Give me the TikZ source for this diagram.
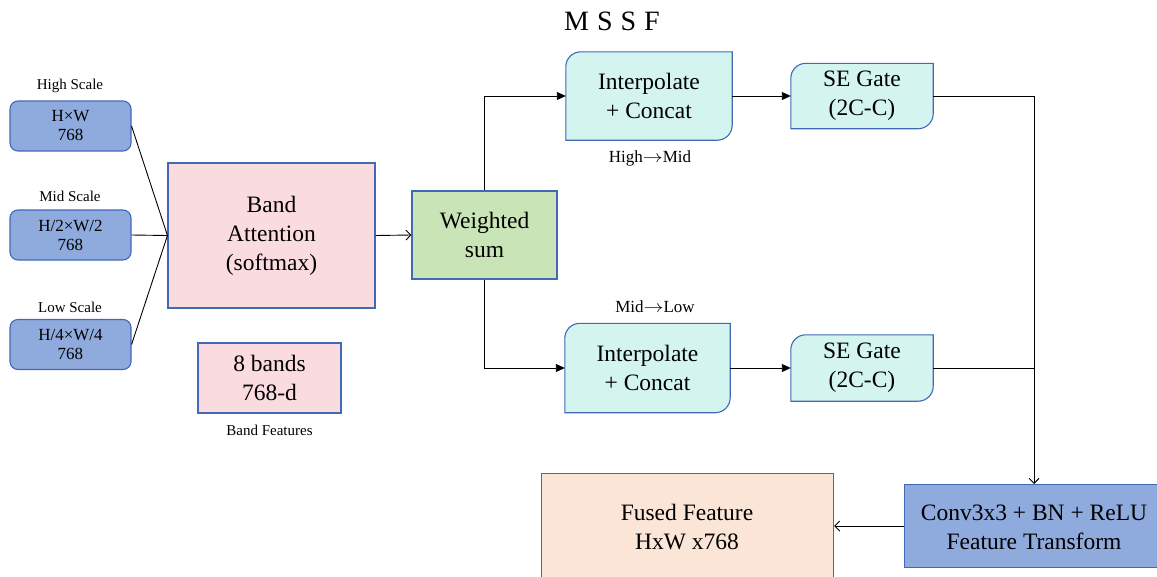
\documentclass[tikz,border=0pt]{standalone}
\usepackage{fontspec}
\setmainfont{Liberation Serif}
\usetikzlibrary{arrows.meta,backgrounds}
\definecolor{edgeblue}{HTML}{4169B8}
\definecolor{scaleblue}{HTML}{8FAADC}
\definecolor{pinkf}{HTML}{FADBE0}
\definecolor{greenf}{HTML}{C9E4B6}
\definecolor{cyanf}{HTML}{D4F4F0}
\definecolor{peachf}{HTML}{FBE5D6}
\tikzset{
  box/.style={draw=edgeblue,line width=1.1pt,inner sep=0pt,align=center,
    font=\fontsize{23.5}{29}\selectfont},
  scalebox/.style={box,fill=scaleblue,rounded corners=8pt,minimum width=121pt,minimum height=50pt,
    font=\fontsize{17}{19}\selectfont},
  pinkbox/.style={box,fill=pinkf},
  cyanbox/.style={inner sep=0pt,align=center,font=\fontsize{23.5}{29}\selectfont},
  lbl/.style={inner sep=0pt,font=\fontsize{15}{18}\selectfont},
  tlbl/.style={inner sep=0pt,font=\fontsize{17}{20}\selectfont},
  conn/.style={line width=0.9pt},
  farrow/.style={conn,-{Triangle[width=8pt,length=9pt]}},
  oarrow/.style={conn,-{Straight Barb[width=10pt,length=5pt,line width=0.9pt]}},
  shapefill/.style={draw=edgeblue,line width=1.1pt,fill=cyanf}
}
\newcommand{\oddshape}[1]{%
  \path[shapefill] ([yshift=-15pt]#1.north west) arc[start angle=180,end angle=90,radius=15pt]
    -- (#1.north east) -- ([yshift=15pt]#1.south east) arc[start angle=0,end angle=-90,radius=15pt]
    -- (#1.south west) -- cycle;}
\newcommand{\rarr}{\scalebox{1.15}[1]{$\rightarrow$}}
\begin{document}
\begin{tikzpicture}[x=1pt,y=-1pt]
\useasboundingbox (0,0) rectangle (1157,576);
% title
\node[inner sep=0pt,font=\fontsize{28}{32}\selectfont] (title) at (612,21) {M\hspace{8pt}S\hspace{8pt}S\hspace{8pt}F};
% scale inputs
\node[lbl] (lh) at (70,86) {High Scale};
\node[scalebox] (s1) at (70.5,126) {H×W\\768};
\node[lbl] (lm) at (70,196) {Mid Scale};
\node[scalebox] (s2) at (70.5,235) {H/2×W/2\\768};
\node[lbl] (ll) at (70,307) {Low Scale};
\node[scalebox] (s3) at (70.5,344.5) {H/4×W/4\\768};
% band attention
\node[pinkbox,minimum width=207pt,minimum height=145pt] (ba) at (271.5,235.5) {Band\\Attention\\(softmax)};
\node[pinkbox,minimum width=143pt,minimum height=70pt] (eb) at (269.5,378) {8 bands\\768-d};
\node[lbl] (bf) at (269.5,430) {Band Features};
% weighted sum
\node[box,fill=greenf,minimum width=145pt,minimum height=88pt] (ws) at (484.5,235) {Weighted\\sum};
% interpolate / SE
\node[cyanbox,minimum width=166pt,minimum height=88pt] (i1) at (649,96) {Interpolate\\+ Concat};
\node[tlbl] (hm) at (650,158) {High\rarr Mid};
\node[cyanbox,minimum width=142pt,minimum height=65pt] (g1) at (862,96) {SE Gate\\(2C-C)};
\node[tlbl] (ml) at (655,307) {Mid\rarr Low};
\node[cyanbox,minimum width=165pt,minimum height=89pt] (i2) at (647.5,368) {Interpolate\\+ Concat};
\node[cyanbox,minimum width=142pt,minimum height=66pt] (g2) at (862,368) {SE Gate\\(2C-C)};
% output
\node[box,fill=scaleblue,minimum width=258pt,minimum height=83pt,anchor=north west] (cv) at (904,484) {};
\node[box,draw=none] (cvt) at (1034,527) {Conv3x3 + BN + ReLU\\Feature Transform};
\node[box,fill=peachf,minimum width=292pt,minimum height=110pt,anchor=north west] (ff) at (541,473) {};
\node[box,draw=none] (fft) at (687,527) {Fused Feature\\HxW x768};
\begin{scope}[on background layer]
\oddshape{i1}\oddshape{g1}\oddshape{i2}\oddshape{g2}
\end{scope}
% connectors
\coordinate (j) at (ba.west);
\draw[conn] (s1.east) -- (j);
\draw[conn] (s2.east) -- (j);
\draw[conn] (s3.east) -- (j);
\draw[oarrow] (ba.east) -- (ws.west);
\draw[farrow] (ws.north) |- (i1.west);
\draw[farrow] (ws.south) |- (i2.west);
\draw[farrow] (i1.east) -- (g1.west);
\draw[farrow] (i2.east) -- (g2.west);
\coordinate (c1) at (1034,484);
\draw[conn] (g1.east) -| (1034,400);
\draw[conn] (g2.east) -- (1034,368);
\draw[oarrow] (1034,96) -- (c1);
\draw[oarrow] (cv.west) -- (ff.east |- cv.west);
\end{tikzpicture}
\end{document}
